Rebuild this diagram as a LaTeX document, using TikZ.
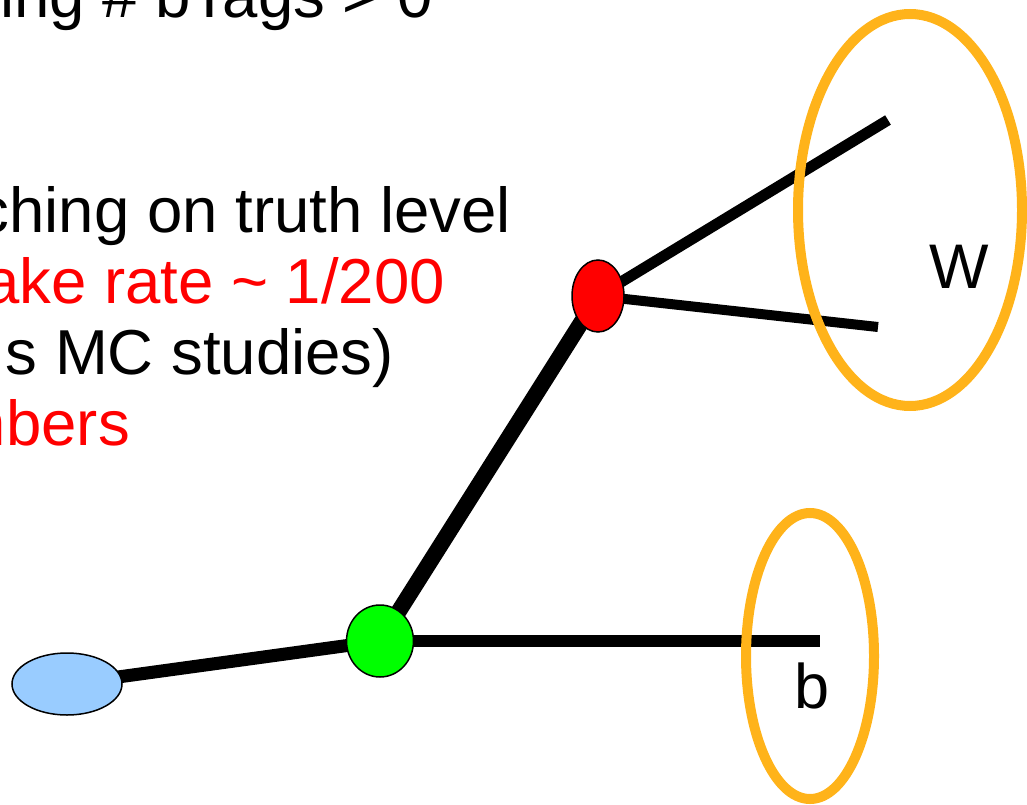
\documentclass[tikz,border=0pt]{standalone}
\usepackage{fontspec}
\setmainfont{Liberation Sans}
\usetikzlibrary{shapes.geometric,backgrounds}
\definecolor{qblue}{HTML}{99CCFF}
\definecolor{jetor}{HTML}{FFB31A}
\definecolor{txtred}{HTML}{FF0000}
\tikzset{
  vtx/.style={ellipse, draw=black, line width=1.5pt, inner sep=0pt},
  leg/.style={line width=11pt, black},
  jetring/.style={draw=jetor, line width=10pt},
  txt/.style={anchor=base east, inner sep=0pt, font=\fontsize{63.5}{72}\selectfont},
  lab/.style={anchor=base, inner sep=0pt, font=\fontsize{63}{72}\selectfont}
}
\begin{document}
\begin{tikzpicture}[x=1pt,y=-1pt]
\useasboundingbox (0,0) rectangle (1027,805);
\clip (0,0) rectangle (1027,805);
% text
\node[txt] (t1) at (433,18) {ing \# bTags > 0};
\node[txt] (t2) at (511,232) {ching on truth level};
\node[txt, text=txtred] (t3) at (445,303) {ake rate \textasciitilde{} 1/200};
\node[txt] (t4) at (394,374) {s MC studies)};
\node[txt, text=txtred] (t5) at (130,445) {nbers};
% vertices
\node[vtx, fill=qblue, minimum width=110pt, minimum height=62pt] (q) at (67,684) {};
\node[vtx, fill=green, minimum width=67pt, minimum height=72pt] (g) at (380,641) {};
\node[vtx, fill=red, minimum width=52pt, minimum height=72pt] (r) at (598,296) {};
\coordinate (bend) at (820,641);
\coordinate (w1) at (888,120);
\coordinate (w2) at (878,327);
\begin{scope}[on background layer]
  \draw[leg, line width=13pt] (q.center) -- (g.center);
  \draw[leg, line width=16pt] (g.center) -- (r.center);
  \draw[leg, line width=12pt] (g.center) -- (bend);
  \draw[leg, line width=11pt] (r.center) -- (w1);
  \draw[leg, line width=10pt] (r.center) -- (w2);
\end{scope}
% jets
\node[lab] (wl) at (959,288) {W};
\node[lab] (bl) at (812,708) {b};
\draw[jetring] (910,210) ellipse [x radius=112, y radius=196];
\draw[jetring] (810,656) ellipse [x radius=64, y radius=143];
\end{tikzpicture}
\end{document}
